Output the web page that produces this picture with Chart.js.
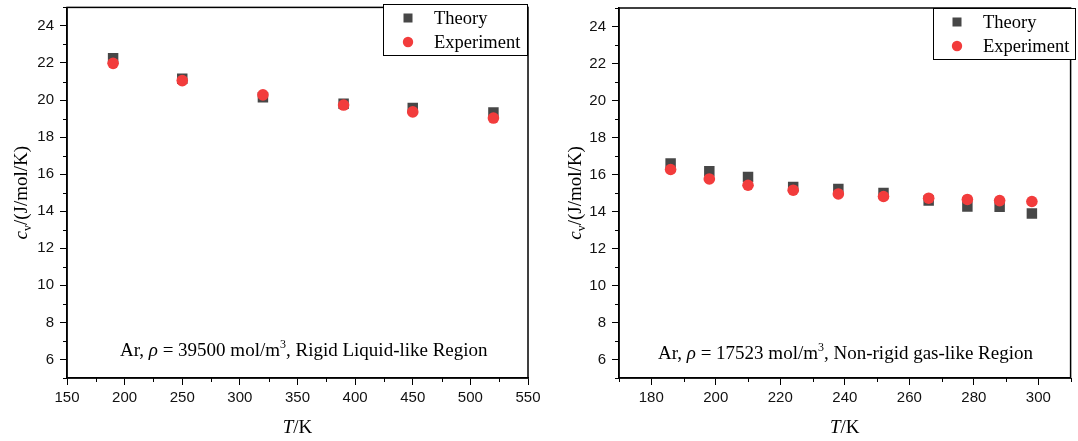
<!DOCTYPE html>
<html>
<head>
<meta charset="utf-8">
<script src="https://cdn.jsdelivr.net/npm/chart.js@4.4.0/dist/chart.umd.min.js"></script>
<style>
  html,body{margin:0;padding:0;background:#fff;}
  #wrap{position:relative;width:1078px;height:441px;overflow:hidden;}
  canvas{position:absolute;top:0;}
</style>
</head>
<body>
<div id="wrap">
  <canvas id="c1" width="545" height="441" style="left:0px"></canvas>
  <canvas id="c2" width="523" height="441" style="left:555px"></canvas>
</div>
<script>
// ---------- DATA ----------
const seriesNames = ['Theory', 'Experiment'];

const leftT = [190, 250, 320, 390, 450, 520];
const leftTheory = [22.25, 21.15, 20.15, 19.80, 19.57, 19.33];
const leftExp = [21.98, 21.05, 20.28, 19.73, 19.36, 19.03];

const rightT = [186, 198, 210, 224, 238, 252, 266, 278, 288, 298];
const rightTheory = [16.59, 16.18, 15.87, 15.33, 15.22, 15.00, 14.60, 14.27, 14.25, 13.89];
const rightExp = [16.27, 15.76, 15.42, 15.15, 14.95, 14.81, 14.72, 14.65, 14.59, 14.54];

const leftXTicks = [150, 200, 250, 300, 350, 400, 450, 500, 550];
const leftXMinor = [175, 225, 275, 325, 375, 425, 475, 525];
const rightXTicks = [180, 200, 220, 240, 260, 280, 300];
const rightXMinor = [170, 190, 210, 230, 250, 270, 290, 310];
const yTicks = [6, 8, 10, 12, 14, 16, 18, 20, 22, 24];
const yMinor = [5, 7, 9, 11, 13, 15, 17, 19, 21, 23, 25];

const leftNote = ['Ar, ', 'ρ', ' = 39500 mol/m', '3', ', Rigid Liquid-like Region'];
const rightNote = ['Ar, ', 'ρ', ' = 17523 mol/m', '3', ', Non-rigid gas-like Region'];
const yTitle = ['c', 'v', '/(J/mol/K)'];
const xTitle = ['T', '/K'];

// ---------- STYLE ----------
const THEORY_COLOR = '#474747';
const EXP_COLOR = '#f23c3c';
const SERIF = '"Liberation Serif", "Times New Roman", serif';
const SANS = '"Liberation Sans", Arial, sans-serif';

function drawRuns(ctx, x, y, runs, align) {
  let total = 0;
  runs.forEach(r => { ctx.font = r.f; total += ctx.measureText(r.t).width; });
  let cx = align === 'center' ? x - total / 2 : x;
  runs.forEach(r => {
    ctx.font = r.f;
    ctx.fillText(r.t, cx, y + (r.dy || 0));
    cx += ctx.measureText(r.t).width;
  });
  return total;
}

const decorPlugin = {
  id: 'decor',
  afterDraw(chart, args, o) {
    const ctx = chart.ctx, a = chart.chartArea;
    const x = chart.scales.x, y = chart.scales.y;
    ctx.save();
    // frame
    ctx.strokeStyle = '#000';
    ctx.lineWidth = 1.5;
    ctx.strokeRect(a.left, a.top, a.right - a.left, a.bottom - a.top);
    // minor ticks
    ctx.lineWidth = 1;
    ctx.beginPath();
    o.xMinor.forEach(v => {
      const px = Math.round(x.getPixelForValue(v)) + 0.5;
      ctx.moveTo(px, a.bottom); ctx.lineTo(px, a.bottom + 4);
    });
    o.yMinor.forEach(v => {
      const py = Math.round(y.getPixelForValue(v)) + 0.5;
      ctx.moveTo(a.left, py); ctx.lineTo(a.left - 4, py);
    });
    ctx.stroke();

    ctx.fillStyle = '#000';
    ctx.textBaseline = 'alphabetic';
    // annotation
    const n = o.note, fs = o.noteSize;
    drawRuns(ctx, o.noteX, o.noteY, [
      { t: n[0], f: `${fs}px ${SERIF}` },
      { t: n[1], f: `italic ${fs}px ${SERIF}` },
      { t: n[2], f: `${fs}px ${SERIF}` },
      { t: n[3], f: `${Math.round(fs * 0.62)}px ${SERIF}`, dy: -8 },
      { t: n[4], f: `${fs}px ${SERIF}` }
    ], 'left');

    // x title
    drawRuns(ctx, (a.left + a.right) / 2, o.xTitleY, [
      { t: xTitle[0], f: `italic 19px ${SERIF}` },
      { t: xTitle[1], f: `19px ${SERIF}` }
    ], 'center');

    // y title (rotated)
    ctx.save();
    ctx.translate(o.yTitleX, (a.top + a.bottom) / 2);
    ctx.rotate(-Math.PI / 2);
    drawRuns(ctx, 0, 0, [
      { t: yTitle[0], f: `italic 19px ${SERIF}` },
      { t: yTitle[1], f: `12px ${SERIF}`, dy: 4 },
      { t: yTitle[2], f: `19px ${SERIF}` }
    ], 'center');
    ctx.restore();

    // legend
    const L = o.legend;
    ctx.fillStyle = '#fff';
    ctx.fillRect(L.x, L.y, L.w, L.h);
    ctx.strokeStyle = '#000';
    ctx.lineWidth = 1;
    ctx.strokeRect(L.x + 0.5, L.y + 0.5, L.w, L.h);
    const ds = chart.data.datasets;
    ds.forEach((d, i) => {
      const my = L.y + 14 + i * 24;
      ctx.fillStyle = d.backgroundColor;
      if (d.pointStyle === 'rect') {
        ctx.fillRect(L.x + L.mx - 4.5, my - 4.5, 9, 9);
      } else {
        ctx.beginPath(); ctx.arc(L.x + L.mx, my, 5.2, 0, Math.PI * 2); ctx.fill();
      }
      ctx.fillStyle = '#000';
      ctx.font = `18.5px ${SERIF}`;
      ctx.textBaseline = 'middle';
      ctx.fillText(d.label, L.x + L.tx, my + 1);
    });
    ctx.restore();
  }
};

function makeChart(id, xs, theory, exp, xMin, xMax, xTicks, xMinor, yAxisW, padRight, padTop, deco) {
  const toPts = (vals) => vals.map((v, i) => ({ x: xs[i], y: v }));
  return new Chart(document.getElementById(id), {
    type: 'scatter',
    data: {
      datasets: [
        { label: seriesNames[0], data: toPts(theory), pointStyle: 'rect', pointRadius: 7.4,
          backgroundColor: THEORY_COLOR, borderWidth: 0, pointBorderWidth: 0, order: 2 },
        { label: seriesNames[1], data: toPts(exp), pointStyle: 'circle', pointRadius: 5.8,
          backgroundColor: EXP_COLOR, borderWidth: 0, pointBorderWidth: 0, order: 1 }
      ]
    },
    options: {
      responsive: false,
      animation: false,
      devicePixelRatio: 1,
      layout: { padding: { left: 0, right: padRight, top: padTop, bottom: 0 } },
      plugins: { legend: { display: false }, tooltip: { enabled: false }, decor: deco },
      scales: {
        x: {
          type: 'linear', min: xMin, max: xMax,
          afterBuildTicks: s => { s.ticks = xTicks.map(v => ({ value: v })); },
          afterFit: s => { s.height = 441 - 378; s.paddingLeft = 0; s.paddingRight = 0; },
          border: { display: true, color: '#000', width: 1.5 },
          grid: { display: true, drawOnChartArea: false, drawTicks: true, tickLength: 7, color: '#000', lineWidth: 1 },
          ticks: { color: '#111', font: { family: SANS, size: 15 }, padding: 4, maxRotation: 0, autoSkip: false }
        },
        y: {
          type: 'linear', min: 5, max: 25,
          afterBuildTicks: s => { s.ticks = yTicks.map(v => ({ value: v })); },
          afterFit: s => { s.width = yAxisW; s.paddingTop = 0; s.paddingBottom = 0; },
          border: { display: true, color: '#000', width: 1.5 },
          grid: { display: true, drawOnChartArea: false, drawTicks: true, tickLength: 7, color: '#000', lineWidth: 1 },
          ticks: { color: '#111', font: { family: SANS, size: 15 }, padding: 6, autoSkip: false }
        }
      }
    },
    plugins: [decorPlugin]
  });
}

makeChart('c1', leftT, leftTheory, leftExp, 150, 550, leftXTicks, leftXMinor, 67, 17, 5, {
  xMinor: leftXMinor, yMinor: yMinor,
  note: leftNote, noteSize: 19, noteX: 120, noteY: 356,
  xTitleY: 433, yTitleX: 27,
  legend: { x: 383, y: 4, w: 144, h: 51, mx: 25, tx: 51 }
});

makeChart('c2', rightT, rightTheory, rightExp, 170, 310, rightXTicks, rightXMinor, 64, 2, 8, {
  xMinor: rightXMinor, yMinor: yMinor,
  note: rightNote, noteSize: 19, noteX: 103, noteY: 359,
  xTitleY: 433, yTitleX: 26,
  legend: { x: 378, y: 8, w: 142, h: 51, mx: 24, tx: 50 }
});
</script>
</body>
</html>
